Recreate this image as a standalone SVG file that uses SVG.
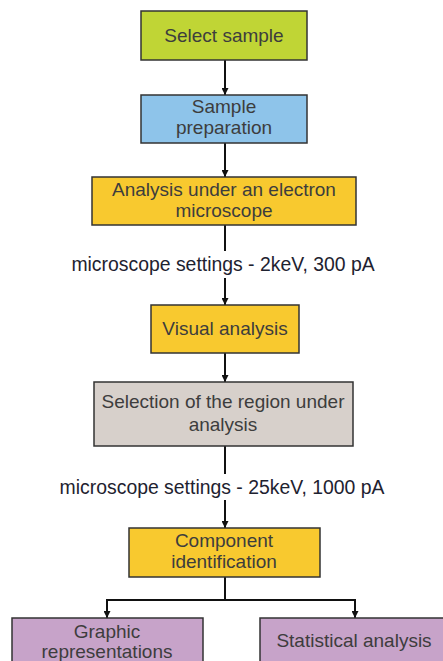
<svg xmlns="http://www.w3.org/2000/svg" width="443" height="661" viewBox="0 0 443 661">
<defs>
<marker id="ah" viewBox="0 0 10 10" refX="10" refY="5" markerWidth="7" markerHeight="7" markerUnits="userSpaceOnUse" orient="auto">
<path d="M0,0 L10,5 L0,10 z" fill="#111"/>
</marker>
</defs>
<style>
.box{stroke:#333;stroke-width:1.5}
.t{font-family:"Liberation Sans",Arial,sans-serif;font-size:19px;fill:#3d3d3d;text-anchor:middle}
.c{stroke:#111;stroke-width:2;fill:none}
.lbl{font-family:"Liberation Sans",Arial,sans-serif;font-size:19.4px;fill:#1e2230;text-anchor:middle}
</style>
<rect width="443" height="661" fill="#fff"/>
<g id="connectors">
<line class="c" x1="225" y1="60" x2="225" y2="95" marker-end="url(#ah)"/>
<line class="c" x1="225" y1="143" x2="225" y2="177" marker-end="url(#ah)"/>
<line class="c" x1="225" y1="225" x2="225" y2="251"/>
<line class="c" x1="225" y1="278" x2="225" y2="305" marker-end="url(#ah)"/>
<line class="c" x1="225" y1="353" x2="225" y2="382" marker-end="url(#ah)"/>
<line class="c" x1="225" y1="446" x2="225" y2="474"/>
<line class="c" x1="225" y1="500" x2="225" y2="528" marker-end="url(#ah)"/>
<polyline class="c" points="225,577 225,600 107,600 107,618" marker-end="url(#ah)"/>
<polyline class="c" points="225,600 355,600 355,618" marker-end="url(#ah)"/>
<text class="lbl" x="223" y="271">microscope settings - 2keV, 300 pA</text>
<text class="lbl" x="222" y="494">microscope settings - 25keV, 1000 pA</text>
</g>
<g id="select-sample">
<rect class="box" x="141" y="11" width="166" height="49" fill="#c0d535"/>
<text class="t" x="224" y="42">Select sample</text>
</g>
<g id="sample-preparation">
<rect class="box" x="141" y="95" width="166" height="48" fill="#8ec4ea"/>
<text class="t" x="224" y="113">Sample</text>
<text class="t" x="224" y="134">preparation</text>
</g>
<g id="analysis-em">
<rect class="box" x="92" y="177" width="264" height="48" fill="#f8c92f"/>
<text class="t" x="224" y="196">Analysis under an electron</text>
<text class="t" x="224" y="217">microscope</text>
</g>
<g id="visual-analysis">
<rect class="box" x="151" y="305" width="148" height="48" fill="#f8c92f"/>
<text class="t" x="225" y="335">Visual analysis</text>
</g>
<g id="selection-region">
<rect class="box" x="94" y="382" width="259" height="64" fill="#d7d0cb"/>
<text class="t" x="223" y="408">Selection of the region under</text>
<text class="t" x="223" y="431">analysis</text>
</g>
<g id="component-identification">
<rect class="box" x="129" y="528" width="191" height="49" fill="#f8c92f"/>
<text class="t" x="224" y="547">Component</text>
<text class="t" x="224" y="568">identification</text>
</g>
<g id="graphic-representations">
<rect class="box" x="12" y="618" width="191" height="60" fill="#c7a3c9"/>
<text class="t" x="107" y="638">Graphic</text>
<text class="t" x="107" y="658">representations</text>
</g>
<g id="statistical-analysis">
<rect class="box" x="260" y="618" width="190" height="60" fill="#c7a3c9"/>
<text class="t" x="354" y="647">Statistical analysis</text>
</g>
</svg>
